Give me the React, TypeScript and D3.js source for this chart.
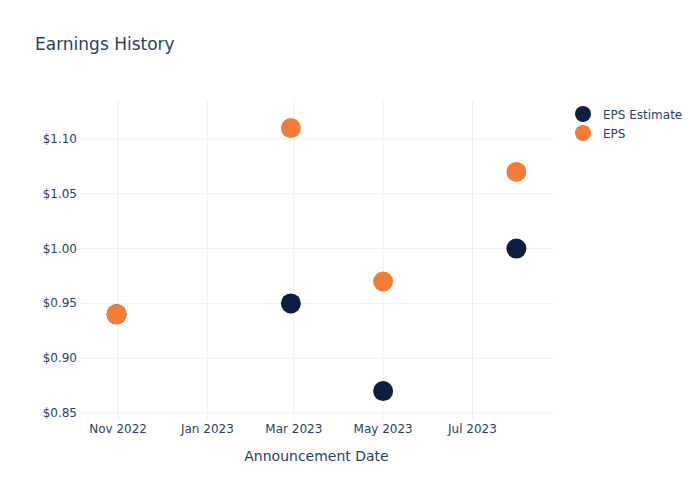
import React from "react";
import * as d3 from "d3";

const dates = ["2022-10-31", "2023-02-27", "2023-05-01", "2023-07-31"];
const epsEstimate = [0.94, 0.95, 0.87, 1.0];
const eps = [0.94, 1.11, 0.97, 1.07];
const yTicks = [0.85, 0.9, 0.95, 1.0, 1.05, 1.1];
const xTicks = ["2022-11-01", "2023-01-01", "2023-03-01", "2023-05-01", "2023-07-01"];
const seriesNames = ["EPS Estimate", "EPS"];

const W = 700, H = 500;
const M = { l: 80, r: 147, t: 100, b: 80 };
const TEXT = "#2a3f5f";
const GRID = "#ebf0f8";
const COLORS = ["#0b1f41", "#f57c36"];
const FONT = '"DejaVu Sans", verdana, arial, sans-serif';

export default function App() {
  const parse = d3.utcParse("%Y-%m-%d");
  const x = d3
    .scaleUtc()
    .domain([parse("2022-10-06")!, parse("2023-08-25")!])
    .range([M.l, W - M.r]);
  const y = d3.scaleLinear().domain([0.8436, 1.1356]).range([H - M.b, M.t]);
  const fmtX = d3.utcFormat("%b %Y");
  const series = [epsEstimate, eps];

  return (
    <svg width={W} height={H} style={{ position: "absolute", left: 0, top: 0, fontFamily: FONT }}>
      <rect width={W} height={H} fill="#fff" />
      {xTicks.map((t) => {
        const xx = x(parse(t)!);
        return (
          <g key={t}>
            <line x1={xx} x2={xx} y1={M.t} y2={H - M.b} stroke={GRID} strokeWidth={1} />
            <text x={xx} y={H - M.b + 13} textAnchor="middle" fontSize={12} fill={TEXT}>
              {fmtX(parse(t)!)}
            </text>
          </g>
        );
      })}
      {yTicks.map((t) => {
        const yy = y(t);
        return (
          <g key={t}>
            <line x1={M.l} x2={W - M.r} y1={yy} y2={yy} stroke={GRID} strokeWidth={1} />
            <text x={M.l - 3} y={yy + 4} textAnchor="end" fontSize={12} fill={TEXT}>
              {"$" + t.toFixed(2)}
            </text>
          </g>
        );
      })}
      {series.map((vals, si) => (
        <g key={si}>
          {vals.map((v, i) => (
            <circle key={i} cx={x(parse(dates[i])!)} cy={y(v)} r={10} fill={COLORS[si]} />
          ))}
        </g>
      ))}
      <text x={35} y={50} fontSize={17} fill={TEXT}>Earnings History</text>
      <text x={(M.l + W - M.r) / 2} y={461} textAnchor="middle" fontSize={14} fill={TEXT}>
        Announcement Date
      </text>
      {seriesNames.map((n, i) => (
        <g key={n} transform={`translate(583, ${114 + i * 19})`}>
          <circle r={8} fill={COLORS[i]} />
          <text x={20} y={4.5} fontSize={12} fill={TEXT}>{n}</text>
        </g>
      ))}
    </svg>
  );
}
